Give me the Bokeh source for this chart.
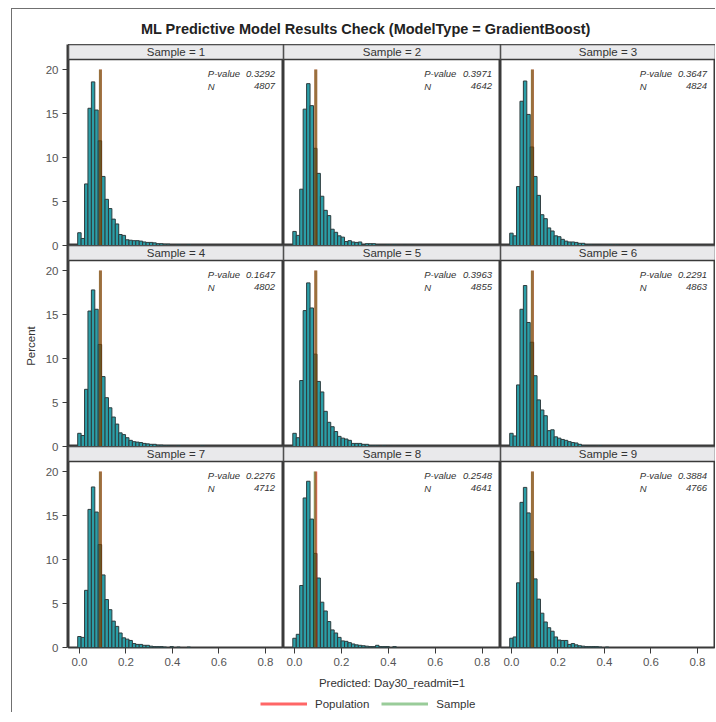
from bokeh.plotting import figure
from bokeh.layouts import gridplot, column, row
from bokeh.models import (Range1d, FixedTicker, BoxAnnotation, Label, Legend,
                          LegendItem, PrintfTickFormatter)
from bokeh.embed import file_html
from bokeh.resources import INLINE

# ---------------- data ----------------
title_text = "ML Predictive Model Results Check (ModelType = GradientBoost)"
x_label = "Predicted: Day30_readmit=1"
y_label = "Percent"
samples = [1, 2, 3, 4, 5, 6, 7, 8, 9]
p_values = ["0.3292", "0.3971", "0.3647", "0.1647", "0.3963", "0.2291", "0.2276", "0.2548", "0.3884"]
n_values = ["4807", "4642", "4824", "4802", "4855", "4863", "4712", "4641", "4766"]
bin_width = 0.0147

pct_1 = [1.45, 0.8, 7.0, 15.6, 18.6, 15.4, 11.9, 7.85, 5.25, 4.2, 3.0, 2.45, 1.25, 1.15, 0.65, 0.6, 0.55,
         0.55, 0.5, 0.4, 0.35, 0.35, 0.3, 0.2, 0.2, 0.15, 0.15, 0.0, 0.0, 0.1, 0.0, 0.0, 0.1]
pct_2 = [1.6, 1.15, 6.4, 15.5, 18.4, 15.9, 11.05, 8.2, 5.6, 4.0, 3.4, 1.85, 1.5, 1.1, 0.95, 0.45, 0.55,
         0.4, 0.35, 0.4, 0.1, 0.2, 0.2, 0.2, 0.1, 0.05, 0.05, 0.1, 0.0, 0.1, 0.0, 0.0, 0.05, 0.0, 0.05]
pct_3 = [1.4, 1.1, 6.7, 16.4, 18.7, 14.9, 11.2, 7.85, 5.7, 3.5, 3.05, 2.0, 1.65, 1.1, 1.0, 0.7, 0.5,
         0.4, 0.4, 0.35, 0.25, 0.25, 0.1, 0.1, 0.05, 0.05, 0.05, 0.0, 0.0, 0.1, 0.0, 0.1]
pct_4 = [1.5, 1.25, 6.5, 15.4, 17.8, 15.6, 11.6, 7.95, 5.55, 4.4, 3.35, 2.55, 1.55, 1.35, 1.0, 0.7, 0.55,
         0.5, 0.45, 0.35, 0.3, 0.25, 0.25, 0.15, 0.15, 0.1, 0.1, 0.05, 0.0, 0.1, 0.0, 0.0, 0.0, 0.0,
         0.0, 0.0, 0.1]
pct_5 = [1.5, 1.0, 7.5, 15.45, 18.6, 15.75, 10.5, 7.4, 6.2, 4.0, 2.75, 2.25, 1.7, 1.15, 0.95, 0.85, 0.7,
         0.35, 0.35, 0.35, 0.25, 0.25, 0.1, 0.1, 0.1, 0.0, 0.1, 0.0, 0.05, 0.0, 0.05]
pct_6 = [1.5, 1.2, 7.0, 15.6, 18.3, 14.1, 11.85, 8.05, 5.3, 4.15, 3.5, 1.8, 1.9, 1.1, 0.95, 0.8, 0.7,
         0.55, 0.45, 0.4, 0.25, 0.1, 0.05, 0.05, 0.05, 0.0, 0.1]
pct_7 = [1.25, 1.15, 6.5, 15.7, 18.25, 15.4, 11.7, 8.25, 5.45, 4.3, 3.0, 2.4, 1.65, 1.1, 0.95, 0.8, 0.45,
         0.35, 0.35, 0.25, 0.25, 0.15, 0.1, 0.1, 0.1, 0.05, 0.0, 0.1, 0.0, 0.05, 0.0, 0.0, 0.05]
pct_8 = [1.05, 1.5, 7.05, 17.0, 18.9, 14.6, 10.7, 7.9, 5.15, 4.15, 2.95, 2.0, 1.65, 1.15, 0.75, 0.7, 0.55,
         0.4, 0.3, 0.25, 0.2, 0.15, 0.1, 0.1, 0.25, 0.1, 0.1, 0.1, 0.0, 0.1]
pct_9 = [1.05, 1.2, 7.35, 16.5, 18.2, 15.3, 10.9, 7.8, 5.5, 3.9, 2.9, 2.25, 1.85, 1.2, 0.85, 0.8, 0.8,
         0.35, 0.45, 0.3, 0.2, 0.15, 0.1, 0.1, 0.1, 0.1, 0.05, 0.0, 0.05]
pct_all = [pct_1, pct_2, pct_3, pct_4, pct_5, pct_6, pct_7, pct_8, pct_9]

population_mean = 0.0905
sample_means = [0.0902, 0.0905, 0.0900, 0.0903, 0.0906, 0.0899, 0.0901, 0.0878, 0.0904]
mean_line_top = 20
x_ticks = [0.0, 0.2, 0.4, 0.6, 0.8]
y_ticks = [0, 5, 10, 15, 20]

# ---------------- style / layout ----------------
FONT = "Liberation Sans"
BAR = "#2b9ea7"
EDGE = "#2e3c3e"
FRAME = "#3a3a3a"
OUTER = "#707070"
STRIP = "#e9e9eb"
POP_COLOR, POP_ALPHA = "#ff0000", 0.6
SMP_COLOR, SMP_ALPHA = "#008000", 0.4

X0, X1 = -0.047, 0.878
Y_PLOT_TOP = 21.14
Y1 = 22.85
col_w = [215, 217, 215]
ROW_H = 201
AXIS_W = 56          # y-axis area, frame of 1px at its right
TITLE_H = 35
BOTTOM = 48
LEGEND_H = 17
TOTAL_W = AXIS_W + sum(col_w)

X_INSET_LAB = X1 - 76.0 / 233.5
X_INSET_VAL = X1 - 8.5 / 233.5
Y_INSET_1 = 19.55
Y_INSET_2 = 18.1


def style_ticks(ax):
    ax.major_tick_in = 0
    ax.minor_tick_line_color = None
    ax.major_tick_line_color = FRAME
    ax.major_label_standoff = 4
    ax.major_label_text_font = FONT
    ax.major_label_text_font_size = "11.5px"
    ax.major_label_text_color = "#555555"
    ax.axis_label_text_font = FONT
    ax.axis_label_text_font_size = "11.5px"
    ax.axis_label_text_font_style = "normal"
    ax.axis_label_text_color = "#333333"


grid = []
for r in range(3):
    cells = []
    for c in range(3):
        k = 3 * r + c
        p = figure(width=col_w[c], height=ROW_H + (BOTTOM if r == 2 else 0),
                   x_range=Range1d(X0, X1), y_range=Range1d(0, Y1),
                   x_axis_location="below" if r == 2 else None,
                   y_axis_location=None,
                   output_backend="svg", toolbar_location=None,
                   min_border_left=0, min_border_right=0,
                   min_border_top=0, min_border_bottom=BOTTOM if r == 2 else 0)
        p.grid.visible = False
        p.outline_line_color = FRAME
        p.outline_line_width = 2
        p.background_fill_color = "white"
        p.border_fill_color = "white"

        vals = pct_all[k]
        centers = [i * bin_width for i, v in enumerate(vals) if v > 0]
        heights = [v for v in vals if v > 0]
        p.vbar(x=centers, width=bin_width, top=heights, bottom=0,
               fill_color=BAR, line_color=EDGE, line_width=1)

        p.line(x=[population_mean, population_mean], y=[0, mean_line_top],
               line_color=POP_COLOR, line_alpha=POP_ALPHA, line_width=3)
        p.line(x=[sample_means[k], sample_means[k]], y=[0, mean_line_top],
               line_color=SMP_COLOR, line_alpha=SMP_ALPHA, line_width=3)

        p.add_layout(BoxAnnotation(bottom=Y_PLOT_TOP, fill_color=STRIP, fill_alpha=1,
                                   line_color=FRAME, line_width=1.5, line_alpha=1))
        p.add_layout(Label(x=(X0 + X1) / 2, y=(Y_PLOT_TOP + Y1) / 2,
                           text=f"Sample = {samples[k]}", text_align="center",
                           text_baseline="middle", text_font=FONT,
                           text_font_size="11.5px", text_color="#333333"))
        for (xx, yy, txt, al) in [(X_INSET_LAB, Y_INSET_1, "P-value", "left"),
                                  (X_INSET_VAL, Y_INSET_1, p_values[k], "right"),
                                  (X_INSET_LAB, Y_INSET_2, "N", "left"),
                                  (X_INSET_VAL, Y_INSET_2, n_values[k], "right")]:
            p.add_layout(Label(x=xx, y=yy, text=txt, text_align=al, text_baseline="middle",
                               text_font=FONT, text_font_style="italic",
                               text_font_size="9.5px", text_color="#333333"))

        if r == 2:
            ax = p.xaxis[0]
            ax.ticker = FixedTicker(ticks=x_ticks)
            ax.formatter = PrintfTickFormatter(format="%.1f")
            ax.axis_line_color = None
            ax.major_tick_out = 6
            style_ticks(ax)
            if c == 1:
                ax.axis_label = x_label
                ax.axis_label_standoff = 8
        cells.append(p)
    grid.append(cells)

# shared "Percent" axis for the three rows (one tall axis so labels at row joins are not cut)
stack_ticks = []
stack_labels = {}
for r in range(3):
    for v in y_ticks:
        t = (2 - r) * Y1 + v
        stack_ticks.append(t)
        stack_labels[t] = str(v)

af = figure(width=AXIS_W, height=3 * ROW_H + BOTTOM,
            x_range=Range1d(0, 1), y_range=Range1d(0, 3 * Y1),
            x_axis_location=None, y_axis_location="left",
            output_backend="svg", toolbar_location=None,
            min_border_left=AXIS_W - 1, min_border_right=0,
            min_border_top=0, min_border_bottom=BOTTOM)
af.grid.visible = False
af.outline_line_color = None
af.border_fill_color = "white"
yax = af.yaxis[0]
yax.ticker = FixedTicker(ticks=stack_ticks)
yax.major_label_overrides = stack_labels
yax.axis_line_color = FRAME
yax.axis_line_width = 2
yax.major_tick_out = 5
style_ticks(yax)
yax.axis_label = y_label
yax.axis_label_standoff = 6

# title
tf = figure(width=TOTAL_W, height=TITLE_H, x_range=Range1d(0, 1), y_range=Range1d(0, 1),
            x_axis_location=None, y_axis_location=None, output_backend="svg",
            toolbar_location=None, min_border=0)
tf.outline_line_color = None
tf.grid.visible = False
tf.add_layout(Label(x=0.5025, y=0.43, text=title_text, text_align="center",
                    text_baseline="middle", text_font=FONT, text_font_size="14.5px",
                    text_font_style="bold", text_color="#222222"))

# legend strip
lf = figure(width=TOTAL_W, height=LEGEND_H, x_range=Range1d(0, 1), y_range=Range1d(0, 1),
            x_axis_location=None, y_axis_location=None, output_backend="svg",
            toolbar_location=None, min_border=0)
lf.outline_line_color = None
lf.grid.visible = False
r_pop = lf.line(x=[float("nan")], y=[float("nan")], line_color=POP_COLOR,
                line_alpha=POP_ALPHA, line_width=3)
r_smp = lf.line(x=[float("nan")], y=[float("nan")], line_color=SMP_COLOR,
                line_alpha=SMP_ALPHA, line_width=3)
legend = Legend(items=[LegendItem(label="Population", renderers=[r_pop]),
                       LegendItem(label="Sample", renderers=[r_smp])],
                orientation="horizontal", location=(248, 1), padding=0, margin=0,
                spacing=12, glyph_width=47, glyph_height=15, label_standoff=8,
                label_height=15, label_text_font=FONT, label_text_font_size="11.5px",
                label_text_color="#333333", border_line_color=None,
                background_fill_alpha=0)
lf.add_layout(legend)

gp = gridplot(grid, toolbar_location=None)
layout = column(tf, row(af, gp), lf,
                styles={"margin-left": "11px", "margin-top": "8px",
                        "border-left": f"1px solid {OUTER}",
                        "border-top": f"1px solid {OUTER}"})

open("out.html", "w").write(file_html(layout, INLINE))
